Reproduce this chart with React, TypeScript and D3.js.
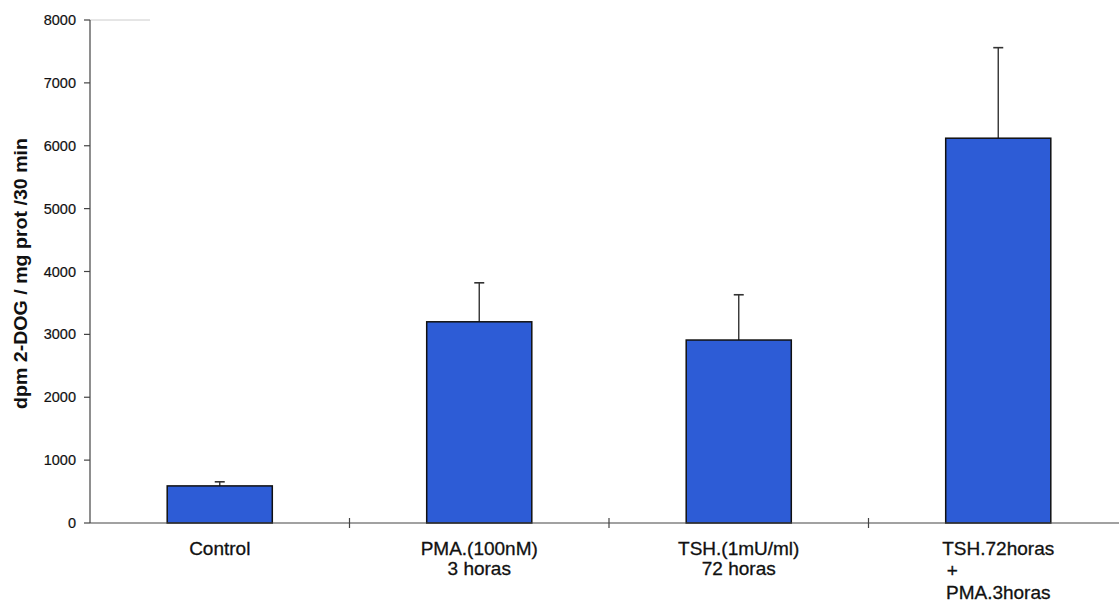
import React from 'react';
import { scaleBand, scaleLinear, range } from 'd3';

// data
const categories = ['Control', 'PMA', 'TSH', 'TSH+PMA'];
const categoryLabels = [
  ['Control'],
  ['PMA.(100nM)', '3 horas'],
  ['TSH.(1mU/ml)', '72 horas'],
  ['TSH.72horas', '+', 'PMA.3horas'],
];
const means = [590, 3200, 2910, 6120];
const errors = [65, 620, 720, 1440];
const yTicks = range(0, 8001, 1000);
const yTitle = 'dpm 2-DOG / mg prot /30 min';

const W = 1119;
const H = 605;
const left = 90;
const right = 1128;
const top = 20;
const bottom = 523;

const barColor = '#2d5cd6';
const font = '"Liberation Sans", Arial, sans-serif';

const App = () => {
  const x = scaleBand<string>().domain(categories).range([left, right]).padding(0);
  const y = scaleLinear().domain([0, 8000]).range([bottom, top]);

  const slot = x.bandwidth();
  const barW = slot * 0.405;

  return (
    <svg
      width={W}
      height={H}
      style={{ position: 'absolute', left: 0, top: 0, background: '#fff' }}
      fontFamily={font}
    >
      {/* faint plot border at the top */}
      <line x1={left} x2={left + 60} y1={y(8000)} y2={y(8000)} stroke="#ccc" strokeWidth={1} />

      {/* bars */}
      {categories.map((c, i) => {
        const cx = (x(c) as number) + slot / 2;
        return (
          <g key={c}>
            <line
              x1={cx}
              x2={cx}
              y1={y(means[i])}
              y2={y(means[i] + errors[i])}
              stroke="#333"
              strokeWidth={1.4}
            />
            <line
              x1={cx - 5}
              x2={cx + 5}
              y1={y(means[i] + errors[i])}
              y2={y(means[i] + errors[i])}
              stroke="#333"
              strokeWidth={1.6}
            />
            <rect
              x={cx - barW / 2}
              y={y(means[i])}
              width={barW}
              height={y(0) - y(means[i])}
              fill={barColor}
              stroke="#111"
              strokeWidth={1.5}
            />
          </g>
        );
      })}

      {/* y axis */}
      <line x1={left} x2={left} y1={y(8000)} y2={y(0)} stroke="#444" strokeWidth={1.2} />
      {yTicks.map((t) => (
        <g key={t}>
          <line x1={left - 6} x2={left} y1={y(t)} y2={y(t)} stroke="#444" strokeWidth={1.2} />
          <text
            x={left - 14}
            y={y(t)}
            dy="0.35em"
            textAnchor="end"
            fontSize={14.5}
            fill="#111"
            stroke="#111"
            strokeWidth={0.2}
          >
            {t}
          </text>
        </g>
      ))}

      {/* x axis */}
      <line x1={left} x2={W} y1={y(0)} y2={y(0)} stroke="#444" strokeWidth={1.2} />
      {categories.slice(1).map((c) => (
        <line
          key={c}
          x1={x(c) as number}
          x2={x(c) as number}
          y1={y(0) - 5}
          y2={y(0) + 5}
          stroke="#444"
          strokeWidth={1.2}
        />
      ))}

      {/* category labels */}
      {categories.map((c, i) => {
        const cx = (x(c) as number) + slot / 2;
        return (
          <text
            key={c}
            fontSize={19}
            fill="#111"
            stroke="#111"
            strokeWidth={0.3}
            textAnchor="middle"
          >
            {categoryLabels[i].map((line, j) => (
              <tspan
                key={j}
                x={line === '+' ? cx - 46 : cx}
                y={555 + j * (categoryLabels[i].length > 2 ? 22 : 20)}
              >
                {line}
              </tspan>
            ))}
          </text>
        );
      })}

      {/* y title */}
      <text
        transform={`translate(27,${(top + bottom) / 2 + 2}) rotate(-90) scale(1.12,1)`}
        textAnchor="middle"
        fontSize={17.5}
        fontWeight="bold"
        fill="#111"
      >
        {yTitle}
      </text>
    </svg>
  );
};

export default App;
